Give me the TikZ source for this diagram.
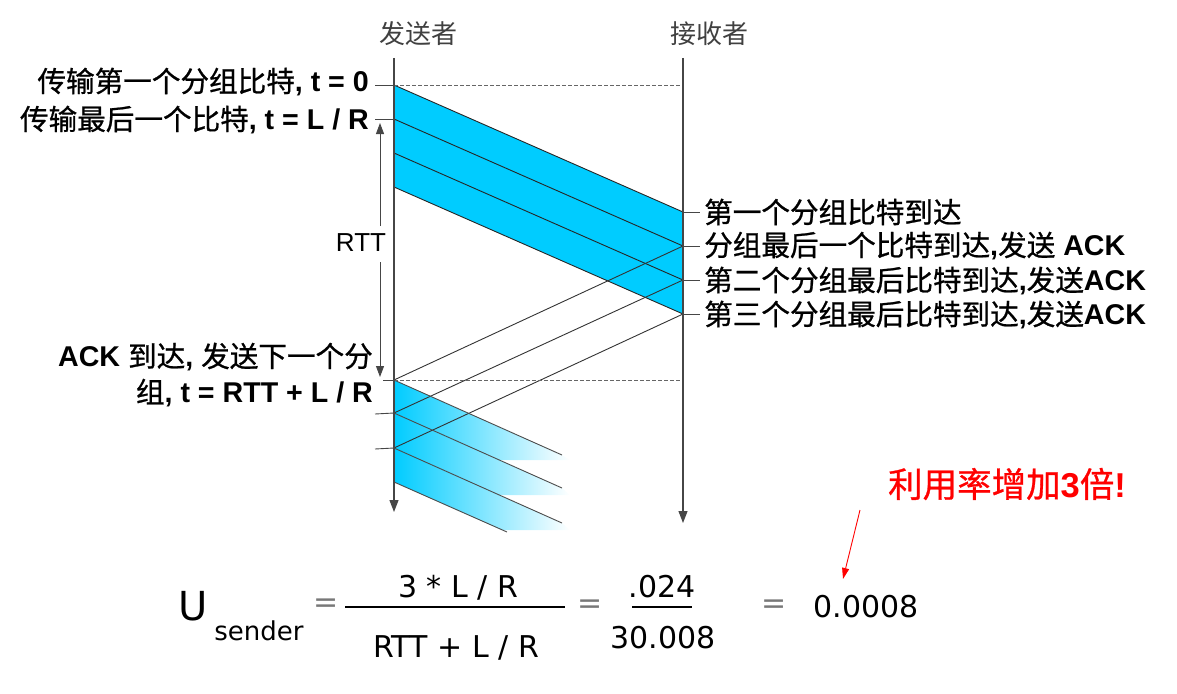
\documentclass[tikz,border=0pt]{standalone}
\usepackage{fontspec}
\setmainfont{Liberation Sans}
\newfontfamily\cjk{Noto Sans CJK SC}
\newfontfamily\cjkb{Noto Sans CJK SC}[FakeBold=0.8]
\newfontfamily\fml{DejaVu Sans}
\usetikzlibrary{arrows.meta}
\definecolor{bandblue}{RGB}{0,204,255}
\definecolor{axisgray}{RGB}{70,70,70}
\definecolor{hdrgray}{RGB}{64,64,64}
\definecolor{eqgray}{RGB}{120,120,120}
\newcommand{\zh}[1]{{\cjkb #1}}
\begin{document}
\begin{tikzpicture}[x=1pt,y=-1pt,
  axisline/.style={draw=axisgray,line width=1.2pt,-{Triangle[length=12pt,width=9pt]}},
  pktline/.style={draw=black!85,line width=0.9pt},
  ackline/.style={draw=black!80,line width=0.9pt},
  fadeline/.style={draw=black!70,line width=0.9pt},
  tickline/.style={draw=axisgray,line width=0.9pt},
  dashline/.style={draw=black!60,dash pattern=on 3.5pt off 2.5pt,line width=0.9pt},
  hdr/.style={inner sep=0pt,text=hdrgray,font=\cjk\fontsize{26}{30}\selectfont},
  lbl/.style={inner sep=0pt,text=black,font=\fontsize{28.6}{36}\selectfont},
  fmltext/.style={inner sep=0pt,font=\fml\fontsize{30}{34}\selectfont},
  eqsign/.style={fmltext,text=eqgray},
  fracbar/.style={draw=black,line width=2.6pt},
  redarrow/.style={draw=red,line width=0.9pt,-{Triangle[length=11pt,width=7pt]}}
]
\useasboundingbox (0,0) rectangle (1177,693);

% axis coordinates
\coordinate (sTop) at (394,58);
\coordinate (sBot) at (394,512);
\coordinate (rTop) at (683,58);
\coordinate (rBot) at (683,523);
% sender time points
\coordinate (s85) at (394,85);
\coordinate (s119) at (394,119);
\coordinate (s153) at (394,153);
\coordinate (s187) at (394,187);
\coordinate (s380) at (394,380);
\coordinate (s413) at (394,413);
\coordinate (s448) at (394,448);
\coordinate (s482) at (394,482);
% receiver time points
\coordinate (r85) at (683,85);
\coordinate (r212) at (683,212);
\coordinate (r246) at (683,246);
\coordinate (r280) at (683,280);
\coordinate (r314) at (683,314);
\coordinate (r380) at (683,380);
% fading ends
\coordinate (f1) at (562,455);
\coordinate (f2) at (562,488);
\coordinate (f3) at (562,523);
\coordinate (f4) at (507,532);

% first three packets
\fill[bandblue] (s85) -- (r212) -- (r314) -- (s187) -- cycle;
% next three packets (fading)
\shade[left color=bandblue,right color=white] (s380) -- (f1) -- (570,460) -- (499,460) -- (s413) -- cycle;
\shade[left color=bandblue,right color=white] (s413) -- (f2) -- (570,495) -- (499,495) -- (s448) -- cycle;
\shade[left color=bandblue,right color=white] (s448) -- (f3) -- (570,530) -- (502,530) -- (s482) -- cycle;

% packet edges
\draw[pktline] (s85) -- (r212);
\draw[pktline] (s119) -- (r246);
\draw[pktline] (s153) -- (r280);
\draw[pktline] (s187) -- (r314);
% ACKs
\draw[ackline] (r246) -- (s380);
\draw[ackline] (r280) -- (s413);
\draw[ackline] (r314) -- (s448);
% fading packet edges
\draw[fadeline] (s380) -- (f1);
\draw[fadeline] (s413) -- (f2);
\draw[fadeline] (s448) -- (f3);
\draw[fadeline] (s482) -- (f4);

% dashed time lines
\draw[dashline] (s85) -- (r85);
\draw[dashline] (s380) -- (r380);

% axes
\draw[axisline] (sTop) -- (sBot);
\draw[axisline] (rTop) -- (rBot);

% ticks
\draw[tickline] (s85) -- ++(-19,0);
\draw[tickline] (s119) -- ++(-19,0);
\draw[tickline] (s380) -- ++(-11,0);
\draw[tickline] (s413) -- ++(-19,1);
\draw[tickline] (s448) -- ++(-19,1);
\draw[tickline] (r212) -- ++(17,0);
\draw[tickline] (r246) -- ++(17,0);
\draw[tickline] (r280) -- ++(17,0);
\draw[tickline] (r314) -- ++(17,0);

% headers
\node[hdr] (snd) at (418,34) {发送者};
\node[hdr] (rcv) at (709,34) {接收者};

% left labels
\node[lbl,anchor=east] (l1) at (369,82) {\zh{传输第一个分组比特}\textbf{, t = 0}};
\node[lbl,anchor=east] (l2) at (369,120) {\zh{传输最后一个比特}\textbf{, t = L / R}};
\node[lbl,anchor=east] (l3) at (373,357) {\textbf{ACK }\zh{到达}\textbf{, }\zh{发送下一个分}};
\node[lbl,anchor=east] (l4) at (373,393) {\zh{组}\textbf{, t = RTT + L / R}};

% RTT
\node[inner sep=0pt,font=\fontsize{26}{30}\selectfont] (rtt) at (361,243) {RTT};
\coordinate (rttA) at (380,226);
\coordinate (rttUp) at (380,123);
\coordinate (rttB) at (380,262);
\coordinate (rttDown) at (380,377);
\draw[tickline,-{Triangle[length=11pt,width=8pt]}] (rttA) -- (rttUp);
\draw[tickline,-{Triangle[length=11pt,width=8pt]}] (rttB) -- (rttDown);

% right labels
\node[lbl,anchor=west] (a1) at (704,212) {\zh{第一个分组比特到达}};
\node[lbl,anchor=west] (a2) at (704,246) {\zh{分组最后一个比特到达}\textbf{,}\zh{发送}\textbf{ ACK}};
\node[lbl,anchor=west] (a3) at (704,281) {\zh{第二个分组最后比特到达}\textbf{,}\zh{发送}\textbf{ACK}};
\node[lbl,anchor=west] (a4) at (704,315) {\zh{第三个分组最后比特到达}\textbf{,}\zh{发送}\textbf{ACK}};

% formula
\node[fmltext,font=\fml\fontsize{40}{44}\selectfont] (U) at (193,606) {U};
\node[fmltext,font=\fml\fontsize{26}{30}\selectfont] (sub) at (259,631) {sender};
\node[eqsign] (eq1) at (326,606) {=};
\node[fmltext] (num1) at (458,588) {3 * L / R};
\draw[fracbar] (345,607) -- (565,607);
\node[fmltext] (den1) at (456,648) {RTT + L / R};
\node[eqsign] (eq2) at (590,607) {=};
\node[fmltext] (num2) at (662,587) {.024};
\draw[fracbar] (632,607) -- (692,607);
\node[fmltext] (den2) at (663,638) {30.008};
\node[eqsign] (eq3) at (774,607) {=};
\node[fmltext] (res) at (866,607) {0.0008};

% red remark
\node[inner sep=0pt,text=red,font=\fontsize{34.5}{38}\selectfont] (gain) at (1007,484) {\zh{利用率增加}\textbf{3}\zh{倍}\textbf{!}};
\coordinate (redA) at (860,510);
\coordinate (redB) at (843,579);
\draw[redarrow] (redA) -- (redB);
\end{tikzpicture}
\end{document}
